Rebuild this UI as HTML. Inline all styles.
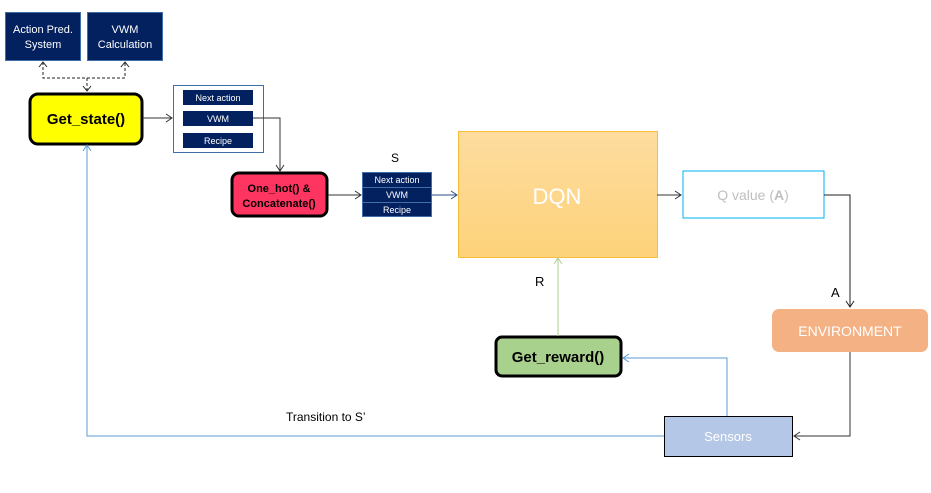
<!DOCTYPE html>
<html><head><style>
body{margin:0;background:#fff}
svg{display:block;font-family:"Liberation Sans",sans-serif}
</style></head><body>
<svg width="931" height="493" viewBox="0 0 931 493">
<defs>
<linearGradient id="g" x1="0" y1="0" x2="0" y2="1"><stop offset="0" stop-color="#fddc9e"/><stop offset="1" stop-color="#fdd27a"/></linearGradient>
</defs>
<!-- top boxes -->
<rect x="5.5" y="12.5" width="75" height="48" fill="#03215f" stroke="#3f6ea8"/>
<text x="43" y="33" font-size="11" fill="#fff" text-anchor="middle">Action Pred.</text>
<text x="43" y="48" font-size="11" fill="#fff" text-anchor="middle">System</text>
<rect x="87.5" y="12.5" width="75" height="48" fill="#03215f" stroke="#3f6ea8"/>
<text x="125" y="33" font-size="11" fill="#fff" text-anchor="middle">VWM</text>
<text x="125" y="48" font-size="11" fill="#fff" text-anchor="middle">Calculation</text>
<!-- dashed -->
<g stroke="#222" fill="none" stroke-dasharray="3,2">
<path d="M43 62 V78 H125 V62"/><path d="M87 78 V91"/>
</g>
<g stroke="#222" fill="none">
<path d="M39 67 L43 62 L47 67"/><path d="M121 67 L125 62 L129 67"/><path d="M83 86 L87 91 L91 86"/>
</g>
<!-- get_state -->
<rect x="30" y="94" width="112" height="50" rx="8" fill="#ffff00" stroke="#000" stroke-width="3"/>
<text x="86" y="124" font-size="15" font-weight="bold" text-anchor="middle">Get_state()</text>
<path d="M143 118 H172 M166 114 L172 118 L166 122" stroke="#333" fill="none"/>
<!-- group -->
<rect x="173.5" y="85.5" width="90" height="67" fill="#fff" stroke="#3f6ea8"/>
<rect x="183" y="90" width="70" height="15" fill="#03215f"/><text x="218" y="101" font-size="9" fill="#fff" text-anchor="middle">Next action</text>
<rect x="183" y="111" width="70" height="15" fill="#03215f"/><text x="218" y="122" font-size="9" fill="#fff" text-anchor="middle">VWM</text>
<rect x="183" y="133" width="70" height="15" fill="#03215f"/><text x="218" y="144" font-size="9" fill="#fff" text-anchor="middle">Recipe</text>
<path d="M253 118 H280 V171 M276 165 L280 171 L284 165" stroke="#333" fill="none"/>
<!-- one hot -->
<rect x="232" y="173" width="95" height="43" rx="7" fill="#ff3561" stroke="#000" stroke-width="3"/>
<text x="279" y="192" font-size="11" font-weight="bold" text-anchor="middle">One_hot() &amp;</text>
<text x="279" y="207" font-size="11" font-weight="bold" text-anchor="middle">Concatenate()</text>
<path d="M328 195 H361 M355 191 L361 195 L355 199" stroke="#333" fill="none"/>
<text x="395" y="162" font-size="12" text-anchor="middle">S</text>
<rect x="362.5" y="172.5" width="69" height="44" fill="#03215f" stroke="#3f6ea8"/>
<path d="M362 187.5 H432 M362 202.5 H432" stroke="#3f6ea8"/>
<text x="397" y="183" font-size="9" fill="#fff" text-anchor="middle">Next action</text>
<text x="397" y="198" font-size="9" fill="#fff" text-anchor="middle">VWM</text>
<text x="397" y="213" font-size="9" fill="#fff" text-anchor="middle">Recipe</text>
<path d="M432 195 H457 M451 191 L457 195 L451 199" stroke="#2e4f8a" fill="none"/>
<!-- DQN -->
<rect x="458.5" y="131.5" width="199" height="126" fill="url(#g)" stroke="#f6be3c"/>
<text x="557" y="204" font-size="22" fill="#fff" text-anchor="middle">DQN</text>
<path d="M657 195 H681 M675 191 L681 195 L675 199" stroke="#333" fill="none"/>
<rect x="683" y="171" width="141" height="47" fill="#fff" stroke="#00b0f0"/>
<text x="753" y="200" font-size="14" fill="#bfbfbf" text-anchor="middle">Q value (<tspan font-weight="bold">A</tspan>)</text>
<path d="M824 195 H850 V307 M846 301 L850 307 L854 301" stroke="#222" fill="none"/>
<text x="831" y="297" font-size="13">A</text>
<rect x="772" y="309" width="156" height="43" rx="7" fill="#f4b183"/>
<text x="850" y="336" font-size="14" fill="#fff" text-anchor="middle">ENVIRONMENT</text>
<path d="M850 352 V436 H794 M800 432 L794 436 L800 440" stroke="#333" fill="none"/>
<!-- sensors -->
<rect x="664.5" y="416.5" width="128" height="40" fill="#b4c7e7" stroke="#000"/>
<text x="728" y="441" font-size="13" fill="#fff" text-anchor="middle">Sensors</text>
<path d="M727 416 V358 H623 M629 354 L623 358 L629 362" stroke="#5b9bd5" fill="none"/>
<rect x="496" y="337" width="125" height="39" rx="6" fill="#a9d18e" stroke="#000" stroke-width="3"/>
<text x="558" y="362" font-size="15" font-weight="bold" text-anchor="middle">Get_reward()</text>
<path d="M558 336 V258 M554 264 L558 258 L562 264" stroke="#a9d18e" fill="none"/>
<text x="535" y="286" font-size="13">R</text>
<path d="M664 436 H87 V145 M83 151 L87 145 L91 151" stroke="#5b9bd5" fill="none"/>
<text x="286" y="421" font-size="12">Transition to S’</text>
</svg>
</body></html>
